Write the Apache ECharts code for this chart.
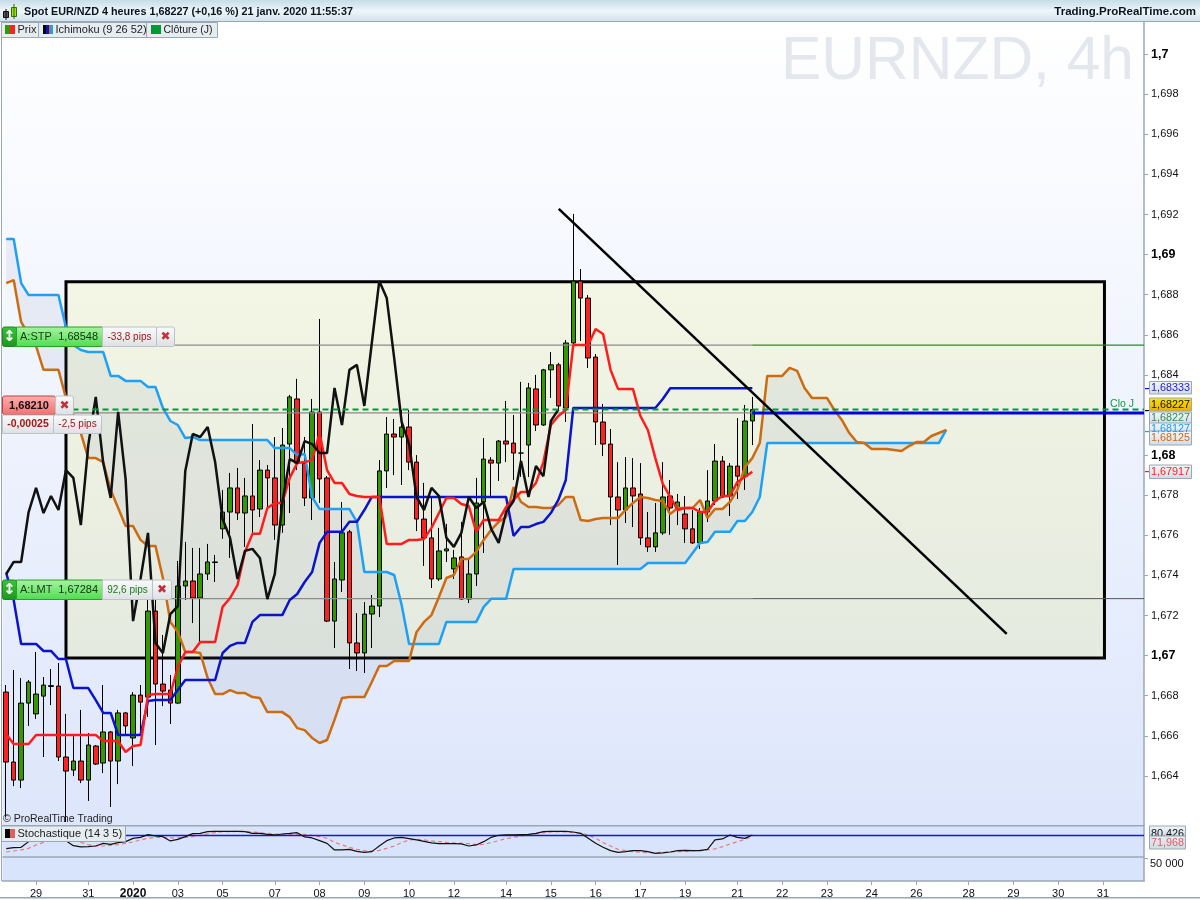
<!DOCTYPE html>
<html><head><meta charset="utf-8">
<style>html,body{margin:0;padding:0;background:#fff}#c{width:1200px;height:900px}</style>
<script src="https://cdn.jsdelivr.net/npm/echarts@6/dist/echarts.min.js"></script>
</head><body><div id="c"></div>
<script>
const opens=[1.66818,1.66469,1.66379,1.66763,1.66709,1.66798,1.66846,1.66848,1.66494,1.66429,1.66474,1.66379,1.66549,1.66464,1.66619,1.66474,1.66714,1.66589,1.66803,1.66793,1.67222,1.66858,1.66828,1.66763,1.67347,1.67372,1.67287,1.67407,1.67464,1.67632,1.67716,1.67836,1.67711,1.67796,1.67731,1.67925,1.67886,1.67651,1.68055,1.68280,1.67960,1.67786,1.68215,1.67886,1.67172,1.67377,1.67617,1.67063,1.67013,1.67207,1.67247,1.67921,1.68105,1.68090,1.68140,1.67965,1.67681,1.67587,1.67382,1.67522,1.67432,1.67492,1.67282,1.67407,1.67766,1.67975,1.67960,1.68070,1.68060,1.68010,1.68050,1.68330,1.68150,1.68425,1.68450,1.68235,1.68559,1.68868,1.68783,1.68489,1.68165,1.68055,1.67791,1.67726,1.67836,1.67806,1.67587,1.67542,1.67612,1.67796,1.67736,1.67706,1.67632,1.67562,1.67716,1.67771,1.67970,1.67796,1.67945,1.67895,1.68170];
const closes=[1.66469,1.66379,1.66763,1.66868,1.66808,1.66853,1.66850,1.66494,1.66424,1.66474,1.66379,1.66554,1.66459,1.66619,1.66474,1.66714,1.66649,1.66803,1.66768,1.67222,1.66858,1.66823,1.66763,1.67347,1.67372,1.67287,1.67407,1.67467,1.67467,1.67716,1.67836,1.67711,1.67796,1.67726,1.67925,1.67886,1.67651,1.68050,1.68290,1.67960,1.67786,1.68215,1.67881,1.67172,1.67382,1.67612,1.67063,1.67013,1.67207,1.67247,1.67921,1.68105,1.68090,1.68140,1.67965,1.67681,1.67587,1.67382,1.67522,1.67532,1.67487,1.67282,1.67407,1.67761,1.67980,1.67960,1.68070,1.68055,1.68010,1.68010,1.68335,1.68150,1.68425,1.68450,1.68245,1.68559,1.68868,1.68783,1.68484,1.68165,1.68055,1.67791,1.67726,1.67836,1.67796,1.67587,1.67542,1.67612,1.67791,1.67736,1.67766,1.67632,1.67562,1.67716,1.67771,1.67970,1.67791,1.67945,1.67895,1.68170,1.68227];
const highs=[1.66853,1.66928,1.66888,1.66878,1.67018,1.66893,1.66933,1.66963,1.66709,1.66599,1.66729,1.66614,1.66554,1.66853,1.66624,1.66729,1.66719,1.66818,1.66853,1.67277,1.67352,1.67103,1.66903,1.67472,1.67567,1.67537,1.67537,1.67557,1.67502,1.67826,1.67911,1.67936,1.67886,1.68155,1.67975,1.67950,1.68090,1.68135,1.68300,1.68380,1.68090,1.68280,1.68679,1.67896,1.67467,1.67766,1.67627,1.67212,1.67267,1.67302,1.67975,1.68190,1.68180,1.68225,1.68225,1.68000,1.67861,1.67791,1.67637,1.67657,1.67527,1.67667,1.67477,1.67886,1.68085,1.67990,1.68075,1.68270,1.68200,1.68365,1.68360,1.68400,1.68430,1.68514,1.68460,1.68574,1.69203,1.68928,1.68798,1.68504,1.68255,1.68130,1.67965,1.67990,1.67985,1.67960,1.67716,1.67761,1.67965,1.67876,1.67806,1.67796,1.67726,1.67736,1.67925,1.68055,1.67995,1.67960,1.68185,1.68250,1.68290];
const lows=[1.66195,1.66349,1.66339,1.66649,1.66684,1.66494,1.66753,1.66474,1.66170,1.66399,1.66364,1.66275,1.66454,1.66414,1.66245,1.66359,1.66604,1.66449,1.66604,1.66694,1.66554,1.66748,1.66659,1.66758,1.67277,1.67162,1.67068,1.67377,1.67367,1.67582,1.67487,1.67676,1.67542,1.67612,1.67691,1.67736,1.67577,1.67612,1.67711,1.67925,1.67746,1.67676,1.67761,1.67167,1.67038,1.67317,1.66933,1.66923,1.66913,1.67038,1.67192,1.67836,1.67900,1.67851,1.67925,1.67621,1.67447,1.67337,1.67372,1.67467,1.67382,1.67277,1.67262,1.67347,1.67512,1.67791,1.67871,1.67965,1.67876,1.67891,1.67891,1.68120,1.68145,1.68285,1.68225,1.68165,1.68549,1.68569,1.68434,1.68050,1.67995,1.67651,1.67452,1.67661,1.67641,1.67552,1.67517,1.67517,1.67602,1.67602,1.67651,1.67562,1.67557,1.67532,1.67666,1.67751,1.67786,1.67696,1.67781,1.67826,1.68050];
const tenkan=[1.66609,1.66559,1.66559,1.66559,1.66604,1.66604,1.66604,1.66604,1.66604,1.66604,1.66604,1.66604,1.66604,1.66574,1.66574,1.66574,1.66519,1.66549,1.66554,1.66803,1.66808,1.66808,1.66808,1.66943,1.67018,1.67018,1.67068,1.67068,1.67068,1.67243,1.67287,1.67352,1.67517,1.67607,1.67607,1.67736,1.67761,1.67761,1.67886,1.67960,1.67965,1.67975,1.68110,1.67925,1.67861,1.67861,1.67806,1.67796,1.67791,1.67791,1.67791,1.67557,1.67557,1.67557,1.67577,1.67577,1.67582,1.67637,1.67711,1.67786,1.67786,1.67756,1.67746,1.67617,1.67676,1.67676,1.67676,1.67741,1.67776,1.67816,1.67816,1.67861,1.67965,1.68150,1.68195,1.68225,1.68549,1.68549,1.68549,1.68629,1.68604,1.68425,1.68330,1.68330,1.68330,1.68195,1.68125,1.67985,1.67856,1.67791,1.67726,1.67736,1.67736,1.67716,1.67716,1.67771,1.67796,1.67796,1.67866,1.67891,1.67917];
const kijun=[1.67412,1.67277,1.67058,1.67058,1.67058,1.67023,1.67023,1.66983,1.66983,1.66838,1.66838,1.66838,1.66778,1.66714,1.66714,1.66604,1.66604,1.66604,1.66604,1.66773,1.66778,1.66778,1.66778,1.66828,1.66878,1.66878,1.66878,1.66878,1.66878,1.67013,1.67048,1.67063,1.67063,1.67168,1.67202,1.67202,1.67202,1.67202,1.67277,1.67307,1.67367,1.67417,1.67562,1.67617,1.67617,1.67617,1.67667,1.67667,1.67726,1.67791,1.67791,1.67791,1.67791,1.67791,1.67791,1.67791,1.67791,1.67791,1.67791,1.67791,1.67791,1.67791,1.67791,1.67791,1.67791,1.67791,1.67791,1.67791,1.67597,1.67641,1.67641,1.67656,1.67667,1.67711,1.67776,1.67876,1.68235,1.68235,1.68235,1.68235,1.68235,1.68235,1.68235,1.68235,1.68235,1.68235,1.68235,1.68235,1.68280,1.68333,1.68333,1.68333,1.68333,1.68333,1.68333,1.68333,1.68333,1.68333,1.68333,1.68333,1.68333];
const chikou=[1.67407,1.67467,1.67467,1.67716,1.67836,1.67711,1.67796,1.67726,1.67925,1.67886,1.67651,1.68050,1.68290,1.67960,1.67786,1.68215,1.67881,1.67172,1.67382,1.67612,1.67063,1.67013,1.67207,1.67247,1.67921,1.68105,1.68090,1.68140,1.67965,1.67681,1.67587,1.67382,1.67522,1.67532,1.67487,1.67282,1.67407,1.67761,1.67980,1.67960,1.68070,1.68055,1.68010,1.68010,1.68335,1.68150,1.68425,1.68450,1.68245,1.68559,1.68868,1.68783,1.68484,1.68165,1.68055,1.67791,1.67726,1.67836,1.67796,1.67587,1.67542,1.67612,1.67791,1.67736,1.67766,1.67632,1.67562,1.67716,1.67771,1.67970,1.67791,1.67945,1.67895,1.68170,1.68227];
const senkouA=[1.68858,1.68873,1.68664,1.68599,1.68544,1.68425,1.68425,1.68425,1.68285,1.68200,1.68110,1.67985,1.67985,1.67965,1.67826,1.67736,1.67646,1.67646,1.67577,1.67547,1.67547,1.67387,1.67168,1.67118,1.67018,1.67018,1.67013,1.66888,1.66808,1.66808,1.66828,1.66813,1.66813,1.66793,1.66788,1.66718,1.66718,1.66718,1.66693,1.66638,1.66628,1.66589,1.66564,1.66579,1.66679,1.66788,1.66793,1.66793,1.66793,1.66868,1.66948,1.66948,1.66973,1.66973,1.66973,1.67118,1.67168,1.67202,1.67292,1.67387,1.67402,1.67482,1.67482,1.67517,1.67577,1.67627,1.67667,1.67691,1.67841,1.67766,1.67741,1.67741,1.67736,1.67736,1.67751,1.67791,1.67791,1.67676,1.67671,1.67681,1.67686,1.67686,1.67686,1.67726,1.67761,1.67791,1.67786,1.67776,1.67771,1.67706,1.67736,1.67736,1.67736,1.67776,1.67686,1.67731,1.67731,1.67766,1.67826,1.67940,1.67985,1.68060,1.68395,1.68395,1.68395,1.68435,1.68420,1.68335,1.68285,1.68285,1.68285,1.68225,1.68175,1.68110,1.68065,1.68060,1.68030,1.68030,1.68030,1.68025,1.68020,1.68045,1.68065,1.68065,1.68095,1.68110,1.68125];
const senkouB=[1.69078,1.69078,1.68858,1.68798,1.68798,1.68798,1.68798,1.68798,1.68638,1.68549,1.68524,1.68514,1.68514,1.68514,1.68395,1.68395,1.68370,1.68370,1.68370,1.68340,1.68340,1.68235,1.68170,1.68150,1.68085,1.68090,1.68075,1.68075,1.68075,1.68075,1.68075,1.68075,1.68075,1.68075,1.68075,1.68075,1.68035,1.68035,1.68035,1.68000,1.68005,1.67791,1.67731,1.67731,1.67731,1.67731,1.67731,1.67667,1.67417,1.67417,1.67417,1.67417,1.67402,1.67252,1.67058,1.67058,1.67058,1.67058,1.67058,1.67168,1.67168,1.67168,1.67168,1.67168,1.67243,1.67283,1.67283,1.67283,1.67432,1.67432,1.67432,1.67432,1.67432,1.67432,1.67432,1.67432,1.67432,1.67432,1.67432,1.67432,1.67432,1.67432,1.67432,1.67432,1.67432,1.67432,1.67462,1.67462,1.67462,1.67462,1.67462,1.67462,1.67512,1.67562,1.67567,1.67617,1.67617,1.67617,1.67671,1.67671,1.67716,1.67791,1.68060,1.68060,1.68060,1.68060,1.68060,1.68060,1.68060,1.68060,1.68060,1.68060,1.68060,1.68060,1.68060,1.68060,1.68060,1.68060,1.68060,1.68060,1.68060,1.68060,1.68060,1.68060,1.68060,1.68060,1.68127];
const stochK=[62.6,63.9,64.3,71.7,78.2,81.7,82.5,81.7,73,66.5,64.8,65.2,66,69.5,68.2,70.4,71.7,76,77.3,80.8,79.1,78.2,72.6,74.7,78.2,82.1,82.5,84.7,85.2,85.2,85.2,85.2,84.7,82.5,82.5,81.2,80.4,81.7,82.5,83.4,77.8,76.5,73,69.5,60.9,60.9,61.7,59.1,57.8,58.7,66,73,76.5,77.3,75.6,73.9,72.1,70,69.1,69.1,69.1,68.7,66,67.4,71.7,77.3,80,80.4,80.4,80.8,81.2,82.5,84.7,85.2,85.2,85.2,84.3,82.5,76,69.5,64.3,60,57.8,58.7,60,60,58.7,56.5,57,58.2,60,60.4,60,60,61.7,73.9,75.2,80.4,77.3,76,80.426];
const stochD=[58.2,59.5,60.9,63,67.4,70.8,73.9,76,76.5,74.7,70.8,67.8,66,66,66.9,67.8,69.5,71.3,73.9,76,77.3,77.3,76.5,76.5,77.3,78.2,80,81.7,83.4,84.7,84.7,85.2,85.2,84.3,83.4,82.5,81.7,81.2,81.2,81.7,81.2,80,78.2,76,70.8,67.4,64.3,61.7,60,59.5,60.4,63,66,70.4,73.9,74.7,73.9,72.6,71.7,70.8,70,69.5,69.1,67.8,68.2,70.4,73,75.6,77.3,79.1,80.4,81.7,83.4,84.3,84.7,84.3,83.4,82.5,80.4,76,70.4,66,61.7,60,58.7,57.8,57.4,57.4,57.8,58.2,58.7,59.1,59.5,60.4,60.9,62.2,65.2,68.7,71.7,74.7,78.2];
const dayIndex=[4,11,17,23,29,36,42,48,54,60,67,73,79,85,91,98,104,110,116,122,129,135,141,147];
const dayText=['29','31','2020','03','05','07','08','09','10','12','14','15','16','17','19','21','22','23','24','26','28','29','30','31'];
const priceTicks=[1.7,1.698,1.696,1.694,1.692,1.69,1.688,1.686,1.684,1.68,1.678,1.676,1.674,1.672,1.67,1.668,1.666,1.664];
const boldTicks=[1.7,1.69,1.68,1.67];
const boxTop=1.68865, boxBottom=1.66988;
const trendLine=[[74.06,1.69228],[134.1,1.67108]];
const stopLevel=1.68548, limitLevel=1.67284, entryLevel=1.6821, dailyClose=1.68227;

const SLOTS=153;
const categories=[];
for(let i=0;i<SLOTS;i++)categories.push('');
dayIndex.forEach((d,k)=>{categories[d]=dayText[k];});
const candles=opens.map((o,i)=>[o,closes[i],lows[i],highs[i]]);
const grad=(stops)=>new echarts.graphic.LinearGradient(0,0,0,1,stops.map((c,i)=>({offset:i/(stops.length-1),color:c})));
const F='"Liberation Sans",Arial,sans-serif';
const LAST=100, EDGE_L=-0.5, EDGE_R=152.5;

function lineS(name,data,color,width,z){return {name,type:'line',data,xAxisIndex:0,yAxisIndex:0,symbol:'none',showSymbol:false,z:z||5,
  lineStyle:{color,width},silent:true};}
function seg(x1,x2,y,color,width,type,z){return {type:'line',xAxisIndex:1,yAxisIndex:0,symbol:'none',showSymbol:false,z:z||6,silent:true,
  data:[[x1,y],[x2,y]],lineStyle:{color,width,type:type||'solid'}};}

const series=[
 {type:'line',xAxisIndex:1,yAxisIndex:0,data:[],z:1,silent:true,
  markArea:{silent:true,itemStyle:{color:grad(['#f3f6e4','#e5eae0']),borderColor:'#000',borderWidth:3},
   data:[[{coord:[8.01,boxTop]},{coord:[147.2,boxBottom]}]]}},
 {type:'custom',xAxisIndex:1,yAxisIndex:0,z:2,silent:true,clip:true,data:[[0,senkouA[0]]],
  renderItem:(p,api)=>{const pts=[];
    senkouA.forEach((v,i)=>pts.push(api.coord([i,v])));
    for(let i=senkouB.length-1;i>=0;i--)pts.push(api.coord([i,senkouB[i]]));
    return {type:'polygon',shape:{points:pts},style:{fill:'rgba(120,125,170,0.10)',stroke:null}};}},
 {name:'Prix',type:'candlestick',xAxisIndex:0,yAxisIndex:0,data:candles,barWidth:5,z:3,silent:true,
  itemStyle:{color:'#339900',color0:'#ff2020',borderColor:'#000',borderColor0:'#000',borderColorDoji:'#000',borderWidth:1}},
 seg(EDGE_L,LAST,stopLevel,'#8a8a8a',1.2,'solid',4),
 seg(LAST,EDGE_R,stopLevel,'#2a8a2a',1.2,'solid',4),
 seg(EDGE_L,LAST,entryLevel,'#8a8a8a',1.2,'solid',4),
 seg(EDGE_L,LAST,limitLevel,'#8a8a8a',1.2,'solid',4),
 seg(LAST,EDGE_R,limitLevel,'#555',1,'solid',4),
 lineS('SenkouB',senkouB,'#1ea0f5',2.5),
 lineS('SenkouA',senkouA,'#cc6c12',2.5),
 lineS('Chikou',chikou,'#111',2.5,6),
 lineS('Kijun',kijun,'#0a14cc',2.5),
 lineS('Tenkan',tenkan,'#ff1c1c',2.5),
 seg(EDGE_L,EDGE_R,dailyClose,'#00993a',2,[6,4],7),
 seg(LAST,EDGE_R,entryLevel,'#0000e6',3,'solid',7),
 {type:'line',data:trendLine,xAxisIndex:1,yAxisIndex:0,symbol:'none',z:8,silent:true,lineStyle:{color:'#000',width:2.5}},
 {name:'%D',type:'line',data:stochD,xAxisIndex:2,yAxisIndex:1,symbol:'none',z:4,silent:true,lineStyle:{color:'#ea7a7a',width:1.2,type:[4,3]}},
 {name:'%K',type:'line',data:stochK,xAxisIndex:2,yAxisIndex:1,symbol:'none',z:5,silent:true,lineStyle:{color:'#111',width:1.2},
  markLine:{silent:true,symbol:'none',animation:false,label:{show:false},precision:3,
    lineStyle:{color:'#1414f0',width:1.3,type:'solid'},
    data:[{yAxis:80.426,lineStyle:{color:'#1414f0',width:1.3,type:'solid',opacity:1}},{yAxis:52.2,lineStyle:{color:'#9aa8b5',width:1.5,type:'solid',opacity:1}}]}}
];

const g=[];
function rect(x,y,w,h,fill,stroke,r){g.push({type:'rect',z:100,silent:true,shape:{x,y,width:w,height:h,r:r||0},style:{fill,stroke:stroke||null,lineWidth:stroke?1:0}});}
function text(x,y,t,font,fill,align){g.push({type:'text',z:101,silent:true,style:{x,y,text:t,font:font,fill,align:align||'left',verticalAlign:'middle'}});}
function bar(x,y,w,h,fill){g.push({type:'rect',z:102,silent:true,shape:{x,y,width:w,height:h},style:{fill}});}

const PANEL='#e6edf0', EDGE='#9aa8b5';
// header
g.push({type:'rect',z:99,silent:true,shape:{x:0,y:0,width:1200,height:22},style:{fill:grad(['#c6dde8','#eef5f9','#cfe2ec'])}});
bar(0,21,1200,1,EDGE);
bar(1,22,1,859,EDGE);
bar(2,825,1142,1.5,EDGE);
bar(0,897,1200,1.5,'#9aa8b5');
rect(3.5,11.5,5,6,'#555','#111');bar(5.5,9,1,11,'#111');
rect(11.5,7.5,5,9,'#99e01e','#3a6a00');bar(13.5,4,1,15,'#3a6a00');
text(24,12,'Spot EUR/NZD 4 heures 1,68227 (+0,16 %) 21 janv. 2020 11:55:37','bold 10.8px '+F,'#0a1420');
text(1196,12,'Trading.ProRealTime.com','bold 11.5px '+F,'#0a1420','right');
// legend tabs
rect(1.5,22.5,37,15,PANEL,EDGE);bar(5,25,5,9,'#339900');bar(10,25,5,9,'#ff2020');text(17.5,30,'Prix','11px '+F,'#222');
rect(38.5,22.5,108,15,PANEL,EDGE);bar(43,25,3,9,'#000');bar(46,25,3,9,'#0a14cc');bar(49,25,2,9,'#cc6c12');bar(50.5,25,2.5,9,'#1ea0f5');text(55.5,30,'Ichimoku (9 26 52)','11px '+F,'#222');
rect(146.5,22.5,71,15,PANEL,EDGE);bar(151,25,10,9,'#009933');text(163.5,30,'Clôture (J)','10.5px '+F,'#222');
// watermark
g.push({type:'text',z:1,silent:true,style:{x:1134,y:62,text:'EURNZD, 4h',font:'60.5px '+F,fill:'#e5e7ef',align:'right',verticalAlign:'middle'}});
text(1134,404,'Clo J','10.5px '+F,'#109a40','right');
text(3,819,'© ProRealTime Trading','10.5px '+F,'#222');
// stochastic label
rect(1.5,825.5,124,16,PANEL,EDGE);bar(5,829,5,9,'#000');bar(10,829,5,9,'#e06060');text(17.5,833.5,'Stochastique (14 3 5)','11px '+F,'#222');
// order tags
const greenFill=grad(['#a6f5a0','#4fdc50']);
const pale=grad(['#fbfbfb','#dde0e4']);
const xFill='#c0303a';
function orderTag(y,label,price,pips,pipColor,w1,w2){
  rect(2.5,y,14,19.5,grad(['#3cc43c','#1c961c']),'#1b8a1b',2);
  text(9.5,y+10,'↕','bold 15px "DejaVu Sans"','#fff','center');
  rect(16.5,y,86,19.5,greenFill,'#2aa02a');
  text(20,y+10,label,'11px '+F,'#1a3a1a');text(98,y+10,price,'11px '+F,'#103010','right');
  rect(102.5,y,w1,19.5,pale,'#bcc2c8');text(102.5+w1/2,y+10,pips,'10px '+F,pipColor,'center');
  rect(102.5+w1,y,w2,19.5,pale,'#bcc2c8',2);text(102.5+w1+w2/2,y+10,'✖','bold 12px "DejaVu Sans"',xFill,'center');
}
orderTag(327,'A:STP','1,68548','-33,8 pips','#a01818',54,18);
orderTag(580,'A:LMT','1,67284','92,6 pips','#187a18',50,19);
rect(2.5,396,53,18.5,grad(['#ffb0b0','#f07070']),'#c04040',2);text(29,405.5,'1,68210','bold 11px '+F,'#111','center');
rect(55.5,396,18,18.5,pale,'#bcc2c8',2);text(64.5,405.5,'✖','bold 12px "DejaVu Sans"',xFill,'center');
rect(2.5,415,51,18.5,pale,'#bcc2c8');text(28,424.5,'-0,00025','bold 10.5px '+F,'#a01818','center');
rect(53.5,415,48,18.5,pale,'#bcc2c8',2);text(77.5,424.5,'-2,5 pips','10px '+F,'#a01818','center');
// right value tags
function vTag(y,h,t,color,fill){rect(1149.5,y,42,h,fill||grad(['#f4f7fa','#cfdbe6']),'#9aa8b5');text(1170.5,y+h/2+0.5,t,'10.8px '+F,color,'center');}
function tick(y,c){bar(1145,y,4,1.2,c);}
vTag(381.5,12.5,'1,68333','#2222cc');tick(388,'#0a14cc');
vTag(412,12,'1,68227','#3a8a50');
vTag(423,12,'1,68127','#1e9cf0');tick(431,'#1ea0f5');
vTag(398,13,'1,68227','#111',grad(['#ffe600','#e8ac00']));tick(410,'#000');
vTag(431,14,'1,68125','#cc6c12');
vTag(465,13.5,'1,67917','#ff2020');tick(471,'#ff1c1c');
rect(1149.5,826,36,10,grad(['#f4f7fa','#cfdbe6']),'#9aa8b5');
text(1167.5,834,'80,426','10.8px '+F,'#111','center');
g.push({type:'rect',z:103,silent:true,shape:{x:1149.5,y:836,width:36,height:13},style:{fill:grad(['#e6ecf4','#cfdbe6']),stroke:'#9aa8b5',lineWidth:1}});
g.push({type:'text',z:104,silent:true,style:{x:1167.5,y:843,text:'71,968',font:'10.8px '+F,fill:'#e06060',align:'center',verticalAlign:'middle'}});

const option={
 animation:false,backgroundColor:'#ffffff',
 grid:[
  {left:2.5,top:22,width:1141.5,height:803,show:true,borderWidth:0,backgroundColor:grad(['#ffffff','#dde6fb'])},
  {left:2.5,top:825,width:1141.5,height:56,show:true,borderWidth:0,backgroundColor:'#d8e4fc'}
 ],
 xAxis:[
  {type:'category',gridIndex:0,data:categories,boundaryGap:true,axisLine:{show:false},axisTick:{show:false},axisLabel:{show:false},splitLine:{show:false}},
  {type:'value',gridIndex:0,min:EDGE_L,max:EDGE_R,show:false,splitLine:{show:false}},
  {type:'category',gridIndex:1,data:categories,boundaryGap:true,position:'bottom',
   axisLine:{show:true,lineStyle:{color:EDGE,width:1.5}},
   axisTick:{show:true,alignWithLabel:true,length:4,lineStyle:{color:EDGE},interval:(i,v)=>v!==''},
   axisLabel:{show:true,interval:0,margin:7,hideOverlap:false,color:'#111',fontFamily:F,fontSize:11,
     formatter:v=>v==='2020'?'{b|2020}':v,rich:{b:{fontWeight:'bold',fontSize:12,fontFamily:F,color:'#111'}}},
   splitLine:{show:false}}
 ],
 yAxis:[
  {type:'value',gridIndex:0,position:'right',min:1.66155,max:1.70160,
   axisLine:{show:true,onZero:false,lineStyle:{color:EDGE,width:1.5}},
   axisTick:{show:true,length:4,customValues:priceTicks,lineStyle:{color:EDGE}},
   axisLabel:{show:true,margin:7,customValues:priceTicks,color:'#111',fontFamily:F,fontSize:11,
     formatter:v=>{const t=String(+v.toFixed(3)).replace('.',',');
        return boldTicks.some(b=>Math.abs(b-v)<1e-6)?'{b|'+t+'}':t;},
     rich:{b:{fontWeight:'bold',fontSize:12.5,fontFamily:F,color:'#000'}}},
   splitLine:{show:false}},
  {type:'value',gridIndex:1,position:'right',min:20.4,max:93.4,
   axisLine:{show:true,onZero:false,lineStyle:{color:EDGE,width:1.5}},
   axisTick:{show:true,length:4,customValues:[50],lineStyle:{color:EDGE}},
   axisLabel:{show:true,margin:6,customValues:[50],color:'#111',fontFamily:F,fontSize:11,verticalAlign:'top',formatter:()=>'50 000'},
   splitLine:{show:false}}
 ],
 series,
 graphic:{elements:g}
};
const chart=echarts.init(document.getElementById('c'),null,{renderer:'canvas'});
chart.setOption(option);
</script></body></html>
